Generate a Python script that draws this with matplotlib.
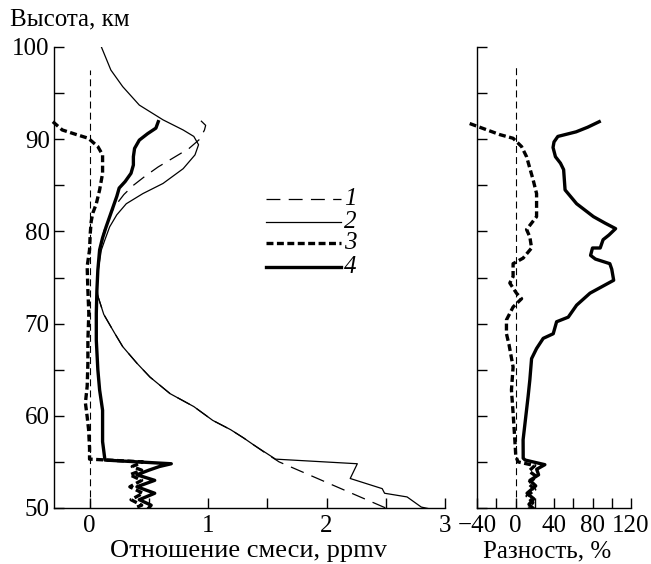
import numpy as np
import matplotlib
matplotlib.use("Agg")
import matplotlib.pyplot as plt
from matplotlib.ticker import MultipleLocator, NullFormatter

plt.rcParams['font.family'] = ['Liberation Serif', 'DejaVu Serif']
plt.rcParams['font.size'] = 18
plt.rcParams['lines.scale_dashes'] = False
plt.rcParams['axes.unicode_minus'] = True

# ---- mixing ratio profiles, ppmv (altitude in km) ----
alt1 = [92.0, 91.5, 91.0, 90.0, 89.0, 88.0, 87.0, 86.0, 85.0, 84.0, 83.0, 82.0,
        81.0, 80.0, 78.0, 76.0, 74.0, 73.0, 71.0, 69.0, 67.5, 65.7, 64.2, 62.4,
        61.0, 59.5, 58.5, 57.6, 56.0, 55.0, 50.0]
mix1 = [0.94, 0.98, 0.97, 0.93, 0.84, 0.71, 0.58, 0.47, 0.37, 0.29, 0.23, 0.18,
        0.15, 0.12, 0.09, 0.07, 0.06, 0.07, 0.12, 0.21, 0.28, 0.40, 0.51, 0.68,
        0.88, 1.04, 1.19, 1.30, 1.48, 1.60, 2.50]

alt2 = [100.0, 97.5, 95.7, 93.7, 92.1, 91.0, 90.3, 89.4, 88.3, 86.8, 85.2, 84.1,
        83.0, 81.8, 80.5, 79.1, 78.0, 76.0, 74.0, 73.0, 71.0, 69.0, 67.5, 65.7,
        64.2, 62.4, 61.0, 59.5, 58.5, 57.6, 56.8, 55.3, 54.8, 53.2, 52.1, 51.6,
        51.2, 50.1, 49.8]
mix2 = [0.10, 0.18, 0.28, 0.42, 0.62, 0.79, 0.88, 0.92, 0.89, 0.79, 0.62, 0.45,
        0.31, 0.23, 0.17, 0.13, 0.10, 0.075, 0.062, 0.07, 0.12, 0.21, 0.28, 0.40,
        0.51, 0.68, 0.88, 1.04, 1.19, 1.30, 1.39, 1.57, 2.26, 2.20, 2.47, 2.49,
        2.68, 2.80, 2.91]

alt3 = [91.9, 91.0, 90.5, 90.1, 89.2, 88.3, 86.3, 84.5, 83.0, 82.0, 81.1, 79.8,
        78.0, 76.2, 73.6, 71.1, 68.2, 65.7, 63.2, 61.4, 59.9, 58.5, 56.5, 55.3,
        55.0, 54.5, 54.1, 53.6, 53.0, 52.3, 51.6, 50.9, 50.3, 50.0]
mix3 = [-0.31, -0.23, -0.11, -0.01, 0.07, 0.11, 0.11, 0.085, 0.057, 0.028, 0.014, 0.006,
        0.0, -0.02, -0.014, -0.006, -0.014, -0.014, -0.02, -0.035, -0.02, -0.008, 0.0, 0.0,
        0.45, 0.36, 0.44, 0.34, 0.44, 0.34, 0.45, 0.35, 0.44, 0.38]

alt4 = [91.9, 91.2, 90.6, 89.9, 89.0, 88.1, 87.2, 86.3, 85.4, 84.7, 83.8, 82.7,
        81.6, 80.5, 79.3, 78.0, 75.8, 73.6, 71.1, 68.2, 65.0, 62.8, 60.6, 58.5,
        57.2, 55.2, 54.8, 54.5, 54.1, 53.6, 53.0, 52.3, 51.6, 50.9, 50.3, 50.0]
mix4 = [0.58, 0.56, 0.49, 0.42, 0.38, 0.37, 0.37, 0.35, 0.30, 0.25, 0.23, 0.20,
        0.17, 0.14, 0.11, 0.085, 0.07, 0.062, 0.057, 0.057, 0.07, 0.085, 0.11, 0.11,
        0.11, 0.13, 0.69, 0.59, 0.50, 0.40, 0.55, 0.40, 0.55, 0.42, 0.52, 0.50]

# ---- differences, % ----
alt_d3 = [91.7, 90.5, 90.1, 89.2, 88.1, 85.6, 84.1, 81.6, 80.2, 79.4, 78.2, 77.1,
          76.5, 75.1, 74.4, 73.3, 72.7, 71.8, 70.4, 68.9, 67.7, 65.3, 62.8, 60.3,
          57.4, 55.6, 55.0, 54.6, 54.0, 53.4, 52.7, 52.0, 51.3, 50.6, 50.0]
diff3 = [-47.6, -16.4, -2.5, 6.3, 11.5, 18.3, 21.9, 21.9, 11.5, 14.9, 16.7, 7.9,
         -2.5, -2.5, -5.9, 1.0, 6.3, -2.5, -9.4, -9.4, -6.7, -2.5, -4.2, -2.5,
         -0.7, 0.3, 2.7, 20.0, 14.0, 22.0, 13.0, 20.0, 12.0, 18.0, 14.0]

alt_d4 = [91.9, 91.3, 90.8, 90.3, 89.7, 89.1, 88.1, 87.4, 86.7, 84.5, 83.0, 81.6,
          80.9, 80.3, 79.6, 79.1, 78.2, 78.2, 77.4, 77.0, 76.5, 75.9, 74.7, 73.3,
          72.0, 70.7, 70.2, 68.9, 68.4, 67.3, 66.2, 63.9, 62.1, 57.4, 55.4, 55.2,
          54.7, 54.2, 53.6, 53.0, 52.4, 51.6, 51.0, 50.4, 50.0]
diff4 = [87.0, 75.0, 63.0, 44.0, 40.0, 39.0, 41.5, 46.7, 50.0, 51.5, 63.5, 81.0,
         93.0, 104.0, 97.0, 91.0, 88.0, 80.0, 78.0, 83.0, 98.0, 100.0, 102.0, 77.4,
         63.5, 54.8, 42.7, 39.2, 28.8, 21.9, 16.7, 14.9, 13.1, 7.9, 8.0, 10.0,
         30.5, 22.0, 24.0, 15.0, 21.0, 12.0, 19.0, 14.0, 18.0]

legend_labels = ['1', '2', '3', '4']
legend_alt = [83.5, 81.0, 78.7, 76.1]

W, H = 651, 564
fig = plt.figure(figsize=(W / 100, H / 100), dpi=100)

ax = fig.add_axes([54 / W, 1 - 508 / H, 391 / W, 461 / H])
ax2 = fig.add_axes([477 / W, 1 - 508 / H, 154 / W, 461 / H])

styles = [
    dict(color='black', lw=0.9, dashes=(10, 6)),   # 1
    dict(color='black', lw=0.9),                   # 2
    dict(color='black', lw=2.4, dashes=(5, 2.5)),  # 3
    dict(color='black', lw=2.4),                   # 4
]
ref_dash = dict(color='black', lw=0.8, dashes=(5, 3))

ax.plot([0, 0], [50, 97.5], **ref_dash)
ax.plot(mix1, alt1, **styles[0])
ax.plot(mix2, alt2, **styles[1])
ax.plot(mix3, alt3, clip_on=False, **styles[2])
ax.plot(mix4, alt4, **styles[3])

ax2.plot([0, 0], [50, 98], **ref_dash)
ax2.plot(diff3, alt_d3, clip_on=False, **styles[2])
ax2.plot(diff4, alt_d4, **styles[3])

ax.set_xlim(-0.3, 3)
ax.set_ylim(50, 100)
ax2.set_xlim(-40, 120)
ax2.set_ylim(50, 100)

ax.xaxis.set_major_locator(MultipleLocator(1))
ax.xaxis.set_minor_locator(MultipleLocator(0.5))
ax2.xaxis.set_major_locator(MultipleLocator(40))
ax2.xaxis.set_minor_locator(MultipleLocator(20))

for a in (ax, ax2):
    for s in ('top', 'right'):
        a.spines[s].set_visible(False)
    for s in ('left', 'bottom'):
        a.spines[s].set_linewidth(1.0)
    a.yaxis.set_major_locator(MultipleLocator(10))
    a.yaxis.set_minor_locator(MultipleLocator(5))
    a.tick_params(which='both', direction='in', length=7, width=1.0)
    a.tick_params(axis='x', which='major', pad=5)
    a.tick_params(axis='y', which='major', pad=3)

ax2.yaxis.set_major_formatter(NullFormatter())

# legend: short line samples with italic numerals
for st, lab, yv in zip(styles, legend_labels, legend_alt):
    ax.plot([1.49, 2.12], [yv, yv], **st)
    ax.text(2.15, yv, lab, style='italic', ha='left', va='center', fontsize=18)

fig.text(10 / W, 1 - 19 / H, 'Высота, км', ha='left', va='center', fontsize=18)
fig.text(248 / W, 1 - 551 / H, 'Отношение смеси, ppmv', ha='center', va='center', fontsize=19)
fig.text(547 / W, 1 - 551 / H, 'Разность, %', ha='center', va='center', fontsize=18)

fig.savefig('out.png', dpi=100)
